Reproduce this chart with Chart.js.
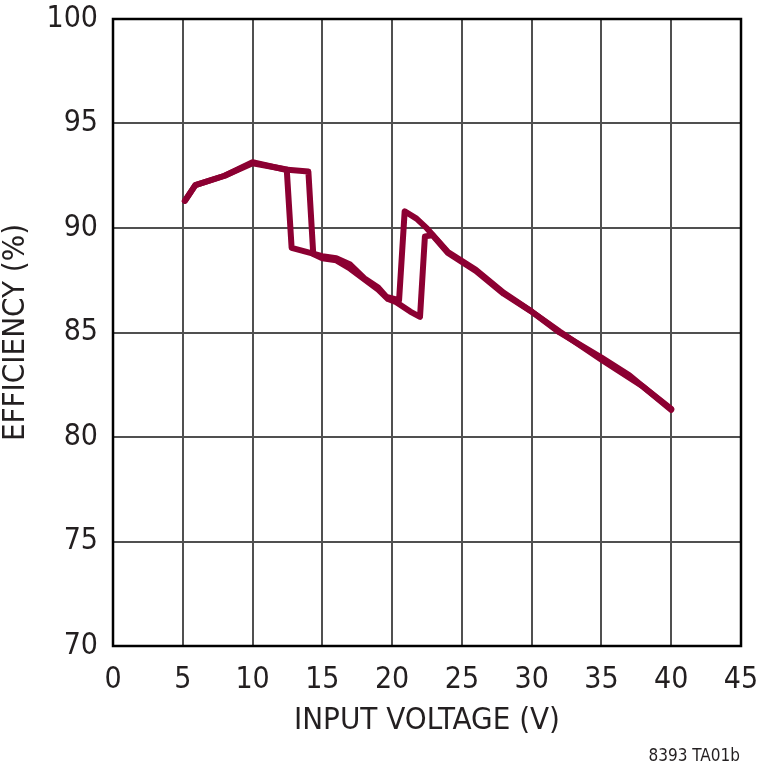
<!DOCTYPE html>
<html>
<head>
<meta charset="utf-8">
<script src="https://cdn.jsdelivr.net/npm/chart.js@4"></script>
<style>
  html, body { margin: 0; padding: 0; background: #fff; }
  #wrap { width: 760px; height: 770px; position: relative; }
</style>
</head>
<body>
<div id="wrap"><canvas id="c" width="760" height="770"></canvas></div>
<script>
// Rising input voltage sweep
const upVoltage    = [5.15, 5.9, 8.0, 10.0, 12.3, 14.0, 14.35, 15.0, 16.0, 17.0, 18.3, 19.0, 19.7, 20.3, 21.3, 22.0, 22.35, 22.9, 24.0, 26.0, 28.0, 30.0, 32.0, 35.0, 37.0, 40.0];
const upEfficiency = [91.3, 92.05, 92.5, 93.15, 92.8, 92.7, 88.75, 88.55, 88.45, 88.05, 87.4, 87.05, 86.6, 86.45, 86.0, 85.75, 89.6, 89.65, 88.8, 87.95, 86.85, 86.0, 85.0, 83.8, 82.95, 81.3];
// Falling input voltage sweep
const downVoltage    = [40.0, 38.0, 35.0, 32.0, 30.0, 28.0, 26.0, 24.0, 22.5, 21.75, 20.9, 20.5, 19.6, 19.0, 18.0, 17.0, 16.0, 15.0, 12.8, 12.45, 10.0, 8.0, 5.9, 5.15];
const downEfficiency = [81.35, 82.4, 83.7, 85.05, 86.0, 86.9, 88.0, 88.85, 89.98, 90.45, 90.8, 86.55, 86.7, 87.15, 87.6, 88.25, 88.55, 88.65, 89.05, 92.8, 93.1, 92.5, 92.05, 91.3];

const xTicks = [0, 5, 10, 15, 20, 25, 30, 35, 40, 45];
const yTicks = [70, 75, 80, 85, 90, 95, 100];

const FONT = "'DejaVu Sans Condensed', 'Liberation Sans Narrow', sans-serif";
const LINE_COLOR = '#8C0032';
const TEXT_COLOR = '#231F20';

const toPts = (xs, ys) => xs.map((x, i) => ({ x: x, y: ys[i] }));

const frame = {
  id: 'frame',
  afterDatasetsDraw(chart) {
    const { ctx, chartArea: a } = chart;
    ctx.save();
    ctx.strokeStyle = '#000';
    ctx.lineWidth = 2.5;
    ctx.strokeRect(a.left, a.top, a.right - a.left, a.bottom - a.top);
    ctx.restore();
  },
  afterDraw(chart) {
    const { ctx } = chart;
    ctx.save();
    ctx.fillStyle = TEXT_COLOR;
    ctx.font = "17px " + FONT;
    ctx.textAlign = 'right';
    ctx.textBaseline = 'middle';
    ctx.fillText('8393 TA01b', 740, 757);
    ctx.restore();
  }
};

new Chart(document.getElementById('c'), {
  type: 'scatter',
  data: {
    datasets: [
      { label: 'up', data: toPts(upVoltage, upEfficiency) },
      { label: 'down', data: toPts(downVoltage, downEfficiency) }
    ].map(d => Object.assign(d, {
      showLine: true,
      borderColor: LINE_COLOR,
      backgroundColor: LINE_COLOR,
      borderWidth: 6,
      pointRadius: 0,
      pointHoverRadius: 0,
      tension: 0,
      borderJoinStyle: 'round',
      borderCapStyle: 'round'
    }))
  },
  options: {
    responsive: false,
    animation: false,
    events: [],
    layout: { padding: { top: 19, right: 19, bottom: 30, left: 0 } },
    plugins: { legend: { display: false }, tooltip: { enabled: false } },
    scales: {
      x: {
        type: 'linear',
        min: 0, max: 45,
        afterBuildTicks: s => { s.ticks = xTicks.map(v => ({ value: v })); },
        afterFit: s => { s.height = 94; s.paddingLeft = 0; s.paddingRight = 0; },
        ticks: { padding: 16, color: TEXT_COLOR, font: { family: FONT, size: 30 } },
        grid: { color: '#505050', lineWidth: 2, drawTicks: false },
        border: { display: false },
        title: { display: true, text: 'INPUT VOLTAGE (V)', color: TEXT_COLOR, padding: 0,
                 font: { family: FONT, size: 31, lineHeight: 1.2 } }
      },
      y: {
        type: 'linear',
        min: 70, max: 100,
        afterBuildTicks: s => { s.ticks = yTicks.map(v => ({ value: v })); },
        afterFit: s => { s.width = 113; s.paddingTop = 0; s.paddingBottom = 0; },
        ticks: { padding: 15, color: TEXT_COLOR, font: { family: FONT, size: 30 } },
        grid: { color: '#505050', lineWidth: 2, drawTicks: false },
        border: { display: false },
        title: { display: true, text: 'EFFICIENCY (%)', color: TEXT_COLOR, padding: 0,
                 font: { family: FONT, size: 31, lineHeight: 1.05 } }
      }
    }
  },
  plugins: [frame]
});
</script>
</body>
</html>
